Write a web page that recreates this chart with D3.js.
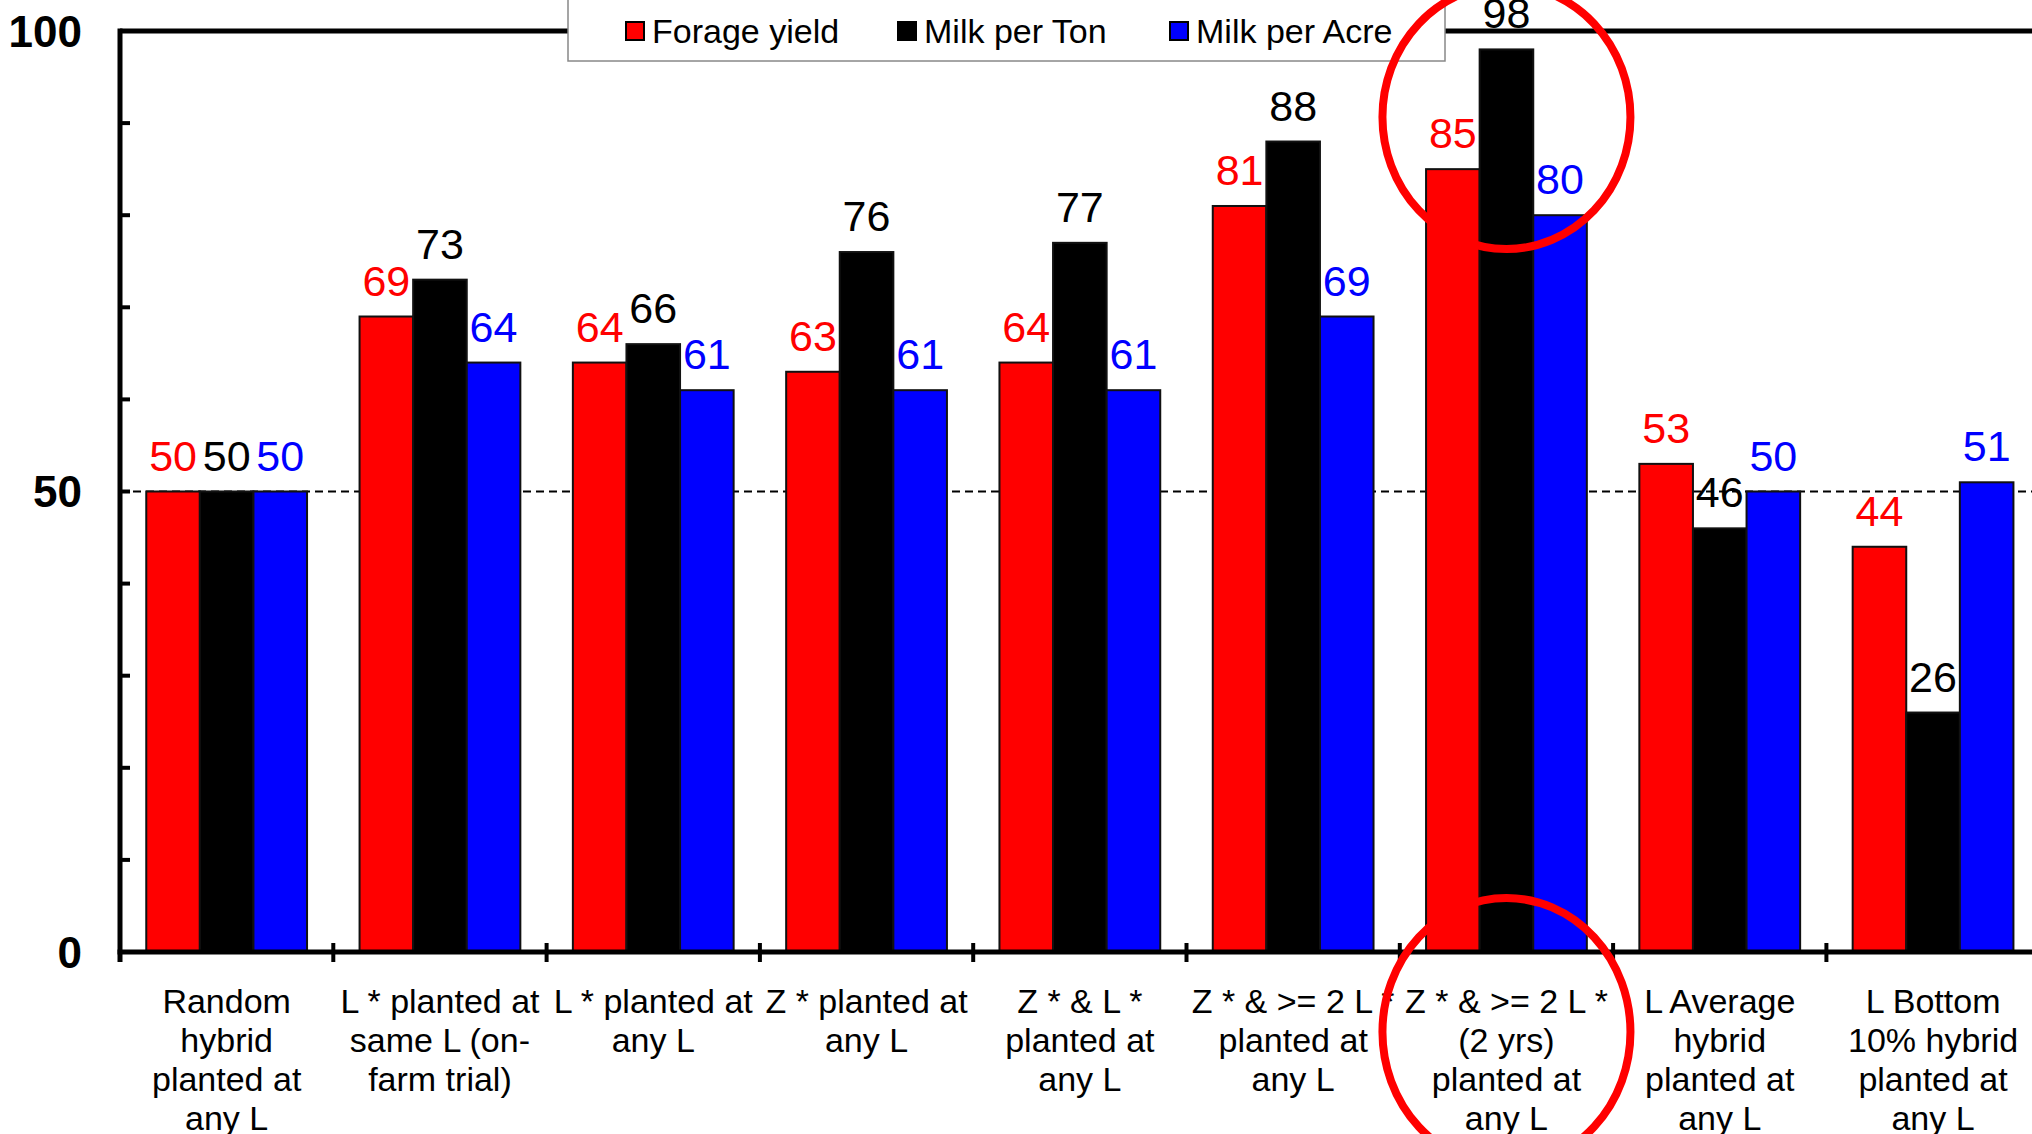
<!DOCTYPE html>
<html>
<head>
<meta charset="utf-8">
<script src="https://cdn.jsdelivr.net/npm/d3@7"></script>
<style>
  html, body { margin: 0; padding: 0; background: #fff; overflow: hidden; }
  svg { display: block; font-family: "Liberation Sans", Arial, sans-serif; }
</style>
</head>
<body>
<svg id="chart" width="2032" height="1134"></svg>
<script>
// Hybrid selection strategies, each relative to a random pick (= 50)
const categories = [
  ["Random", "hybrid", "planted at", "any L"],
  ["L * planted at", "same L (on-", "farm trial)"],
  ["L * planted at", "any L"],
  ["Z * planted at", "any L"],
  ["Z * & L *", "planted at", "any L"],
  ["Z * & >= 2 L *", "planted at", "any L"],
  ["Z * & >= 2 L *", "(2 yrs)", "planted at", "any L"],
  ["L Average", "hybrid", "planted at", "any L"],
  ["L Bottom", "10% hybrid", "planted at", "any L"]
];
const seriesNames = ["Forage yield", "Milk per Ton", "Milk per Acre"];
const seriesColors = ["#ff0000", "#000000", "#0000ff"];
const forageYield = [50, 69, 64, 63, 64, 81, 85, 53, 44];
const milkPerTon  = [50, 73, 66, 76, 77, 88, 98, 46, 26];
const milkPerAcre = [50, 64, 61, 61, 61, 69, 80, 50, 51];
const yTickLabels = [0, 50, 100];
const yMinorTicks = [0, 10, 20, 30, 40, 50, 60, 70, 80, 90, 100];
const highlighted = 6; // strategy circled at top and bottom

const seriesValues = [forageYield, milkPerTon, milkPerAcre];
const catKeys = categories.map((c, i) => i);

const svg = d3.select("#chart");
const plotLeft = 120, plotTop = 31, plotBottom = 952;
const step = 213.3;

const x0 = d3.scaleBand().domain(catKeys).range([plotLeft, plotLeft + step * categories.length]).padding(0);
const x1 = d3.scaleBand().domain(d3.range(seriesNames.length)).range([0, x0.bandwidth()])
  .paddingInner(0).paddingOuter(0.49);
const y = d3.scaleLinear().domain([0, 100]).range([plotBottom, plotTop]);

// reference line at the random-pick level
svg.append("line")
  .attr("x1", plotLeft).attr("x2", 2032)
  .attr("y1", y(50)).attr("y2", y(50))
  .attr("stroke", "#000").attr("stroke-width", 2).attr("stroke-dasharray", "8,5");

// bars
const groups = svg.append("g").selectAll("g")
  .data(catKeys).join("g")
  .attr("transform", d => `translate(${x0(d)},0)`);

groups.selectAll("rect")
  .data(ci => seriesValues.map((vals, si) => ({ si, v: vals[ci] })))
  .join("rect")
  .attr("x", d => x1(d.si))
  .attr("width", x1.bandwidth())
  .attr("y", d => y(d.v))
  .attr("height", d => y(0) - y(d.v))
  .attr("fill", d => seriesColors[d.si])
  .attr("stroke", "#111").attr("stroke-width", 2);

// value labels
groups.selectAll("text")
  .data(ci => seriesValues.map((vals, si) => ({ si, v: vals[ci] })))
  .join("text")
  .attr("x", d => x1(d.si) + x1.bandwidth() / 2)
  .attr("y", d => y(d.v) - 21)
  .attr("text-anchor", "middle")
  .attr("font-size", 43)
  .attr("fill", d => seriesColors[d.si])
  .text(d => d.v);

// plot frame top
svg.append("line")
  .attr("x1", plotLeft).attr("x2", 2032)
  .attr("y1", plotTop).attr("y2", plotTop)
  .attr("stroke", "#000").attr("stroke-width", 5);

// y axis with inward minor ticks
const yAxis = svg.append("g");
yAxis.append("line")
  .attr("x1", plotLeft).attr("x2", plotLeft).attr("y1", plotTop - 2.5).attr("y2", plotBottom + 10)
  .attr("stroke", "#000").attr("stroke-width", 5);
yAxis.selectAll("line.tick").data(yMinorTicks).join("line")
  .attr("class", "tick")
  .attr("x1", plotLeft).attr("x2", plotLeft + 10)
  .attr("y1", d => y(d)).attr("y2", d => y(d))
  .attr("stroke", "#000").attr("stroke-width", 4);
yAxis.selectAll("text").data(yTickLabels).join("text")
  .attr("x", plotLeft - 38).attr("y", d => y(d))
  .attr("dy", "0.36em")
  .attr("text-anchor", "end")
  .attr("font-size", 44).attr("font-weight", "bold")
  .text(d => d);

// x axis with crossing ticks at category boundaries
const xAxis = svg.append("g");
xAxis.append("line")
  .attr("x1", plotLeft - 2.5).attr("x2", 2032).attr("y1", plotBottom).attr("y2", plotBottom)
  .attr("stroke", "#000").attr("stroke-width", 5);
xAxis.selectAll("line.tick").data(catKeys.slice(1)).join("line")
  .attr("class", "tick")
  .attr("x1", d => x0(d)).attr("x2", d => x0(d))
  .attr("y1", plotBottom - 9).attr("y2", plotBottom + 10)
  .attr("stroke", "#000").attr("stroke-width", 4);

// category labels
xAxis.selectAll("text").data(catKeys).join("text")
  .attr("text-anchor", "middle")
  .attr("font-size", 34)
  .attr("transform", d => `translate(${x0(d) + x0.bandwidth() / 2},1013)`)
  .each(function (d) {
    d3.select(this).selectAll("tspan").data(categories[d]).join("tspan")
      .attr("x", 0).attr("y", (t, i) => i * 39)
      .text(t => t);
  });

// legend
const legend = svg.append("g");
legend.append("rect")
  .attr("x", 568).attr("y", -10).attr("width", 877).attr("height", 71)
  .attr("fill", "#fff").attr("stroke", "#888").attr("stroke-width", 1.5);
const legendX = [626, 898, 1170];
const items = legend.selectAll("g").data(seriesNames).join("g")
  .attr("transform", (d, i) => `translate(${legendX[i]},31)`);
items.append("rect")
  .attr("x", 0).attr("y", -9).attr("width", 18).attr("height", 18)
  .attr("fill", (d, i) => seriesColors[i]).attr("stroke", "#000").attr("stroke-width", 2);
items.append("text")
  .attr("x", 26).attr("dy", "0.34em")
  .attr("font-size", 34)
  .text(d => d);

// highlight rings around the best strategy
const hx = x0(highlighted) + x0.bandwidth() / 2;
svg.append("ellipse")
  .attr("cx", hx).attr("cy", 117).attr("rx", 124).attr("ry", 132)
  .attr("fill", "none").attr("stroke", "#ff0000").attr("stroke-width", 8);
svg.append("ellipse")
  .attr("cx", hx).attr("cy", 1032).attr("rx", 124).attr("ry", 134)
  .attr("fill", "none").attr("stroke", "#ff0000").attr("stroke-width", 8);
</script>
</body>
</html>
